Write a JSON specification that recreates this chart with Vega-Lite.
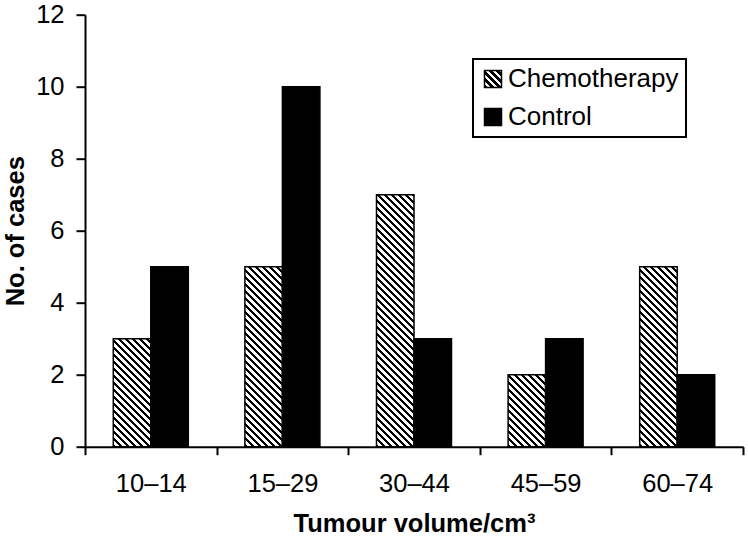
{
  "$schema": "https://vega.github.io/schema/vega-lite/v6.json",
  "width": 658,
  "height": 432,
  "autosize": {"type": "none"},
  "padding": {"left": 85, "top": 14.7, "right": 5, "bottom": 91.3},
  "background": "#ffffff",
  "config": {
    "font": "Liberation Sans",
    "view": {"stroke": null},
    "axis": {
      "domainColor": "#000",
      "domainWidth": 2,
      "tickColor": "#000",
      "tickWidth": 2,
      "labelColor": "#000",
      "labelFont": "Liberation Sans",
      "labelFontSize": 25.5,
      "titleColor": "#000",
      "titleFont": "Liberation Sans",
      "titleFontSize": 25.5,
      "titleFontWeight": "bold",
      "grid": false
    }
  },
  "params": [
    {
      "name": "hatch",
      "expr": "[{offset:0,color:'#000'},{offset:0.009,color:'#000'},{offset:0.009,color:'#fff'},{offset:0.02,color:'#fff'},{offset:0.02,color:'#000'},{offset:0.029,color:'#000'},{offset:0.029,color:'#fff'},{offset:0.04,color:'#fff'},{offset:0.04,color:'#000'},{offset:0.049,color:'#000'},{offset:0.049,color:'#fff'},{offset:0.06,color:'#fff'},{offset:0.06,color:'#000'},{offset:0.069,color:'#000'},{offset:0.069,color:'#fff'},{offset:0.08,color:'#fff'},{offset:0.08,color:'#000'},{offset:0.089,color:'#000'},{offset:0.089,color:'#fff'},{offset:0.1,color:'#fff'},{offset:0.1,color:'#000'},{offset:0.109,color:'#000'},{offset:0.109,color:'#fff'},{offset:0.12,color:'#fff'},{offset:0.12,color:'#000'},{offset:0.129,color:'#000'},{offset:0.129,color:'#fff'},{offset:0.14,color:'#fff'},{offset:0.14,color:'#000'},{offset:0.149,color:'#000'},{offset:0.149,color:'#fff'},{offset:0.16,color:'#fff'},{offset:0.16,color:'#000'},{offset:0.169,color:'#000'},{offset:0.169,color:'#fff'},{offset:0.18,color:'#fff'},{offset:0.18,color:'#000'},{offset:0.189,color:'#000'},{offset:0.189,color:'#fff'},{offset:0.2,color:'#fff'},{offset:0.2,color:'#000'},{offset:0.209,color:'#000'},{offset:0.209,color:'#fff'},{offset:0.22,color:'#fff'},{offset:0.22,color:'#000'},{offset:0.229,color:'#000'},{offset:0.229,color:'#fff'},{offset:0.24,color:'#fff'},{offset:0.24,color:'#000'},{offset:0.249,color:'#000'},{offset:0.249,color:'#fff'},{offset:0.26,color:'#fff'},{offset:0.26,color:'#000'},{offset:0.269,color:'#000'},{offset:0.269,color:'#fff'},{offset:0.28,color:'#fff'},{offset:0.28,color:'#000'},{offset:0.289,color:'#000'},{offset:0.289,color:'#fff'},{offset:0.3,color:'#fff'},{offset:0.3,color:'#000'},{offset:0.309,color:'#000'},{offset:0.309,color:'#fff'},{offset:0.32,color:'#fff'},{offset:0.32,color:'#000'},{offset:0.329,color:'#000'},{offset:0.329,color:'#fff'},{offset:0.34,color:'#fff'},{offset:0.34,color:'#000'},{offset:0.349,color:'#000'},{offset:0.349,color:'#fff'},{offset:0.36,color:'#fff'},{offset:0.36,color:'#000'},{offset:0.369,color:'#000'},{offset:0.369,color:'#fff'},{offset:0.38,color:'#fff'},{offset:0.38,color:'#000'},{offset:0.389,color:'#000'},{offset:0.389,color:'#fff'},{offset:0.4,color:'#fff'},{offset:0.4,color:'#000'},{offset:0.409,color:'#000'},{offset:0.409,color:'#fff'},{offset:0.42,color:'#fff'},{offset:0.42,color:'#000'},{offset:0.429,color:'#000'},{offset:0.429,color:'#fff'},{offset:0.44,color:'#fff'},{offset:0.44,color:'#000'},{offset:0.449,color:'#000'},{offset:0.449,color:'#fff'},{offset:0.46,color:'#fff'},{offset:0.46,color:'#000'},{offset:0.469,color:'#000'},{offset:0.469,color:'#fff'},{offset:0.48,color:'#fff'},{offset:0.48,color:'#000'},{offset:0.489,color:'#000'},{offset:0.489,color:'#fff'},{offset:0.5,color:'#fff'},{offset:0.5,color:'#000'},{offset:0.509,color:'#000'},{offset:0.509,color:'#fff'},{offset:0.52,color:'#fff'},{offset:0.52,color:'#000'},{offset:0.529,color:'#000'},{offset:0.529,color:'#fff'},{offset:0.54,color:'#fff'},{offset:0.54,color:'#000'},{offset:0.549,color:'#000'},{offset:0.549,color:'#fff'},{offset:0.56,color:'#fff'},{offset:0.56,color:'#000'},{offset:0.569,color:'#000'},{offset:0.569,color:'#fff'},{offset:0.58,color:'#fff'},{offset:0.58,color:'#000'},{offset:0.589,color:'#000'},{offset:0.589,color:'#fff'},{offset:0.6,color:'#fff'},{offset:0.6,color:'#000'},{offset:0.609,color:'#000'},{offset:0.609,color:'#fff'},{offset:0.62,color:'#fff'},{offset:0.62,color:'#000'},{offset:0.629,color:'#000'},{offset:0.629,color:'#fff'},{offset:0.64,color:'#fff'},{offset:0.64,color:'#000'},{offset:0.649,color:'#000'},{offset:0.649,color:'#fff'},{offset:0.66,color:'#fff'},{offset:0.66,color:'#000'},{offset:0.669,color:'#000'},{offset:0.669,color:'#fff'},{offset:0.68,color:'#fff'},{offset:0.68,color:'#000'},{offset:0.689,color:'#000'},{offset:0.689,color:'#fff'},{offset:0.7,color:'#fff'},{offset:0.7,color:'#000'},{offset:0.709,color:'#000'},{offset:0.709,color:'#fff'},{offset:0.72,color:'#fff'},{offset:0.72,color:'#000'},{offset:0.729,color:'#000'},{offset:0.729,color:'#fff'},{offset:0.74,color:'#fff'},{offset:0.74,color:'#000'},{offset:0.749,color:'#000'},{offset:0.749,color:'#fff'},{offset:0.76,color:'#fff'},{offset:0.76,color:'#000'},{offset:0.769,color:'#000'},{offset:0.769,color:'#fff'},{offset:0.78,color:'#fff'},{offset:0.78,color:'#000'},{offset:0.789,color:'#000'},{offset:0.789,color:'#fff'},{offset:0.8,color:'#fff'},{offset:0.8,color:'#000'},{offset:0.809,color:'#000'},{offset:0.809,color:'#fff'},{offset:0.82,color:'#fff'},{offset:0.82,color:'#000'},{offset:0.829,color:'#000'},{offset:0.829,color:'#fff'},{offset:0.84,color:'#fff'}]"
    }
  ],
  "data": {
    "values": [
      {"volume": "10–14", "group": "Chemotherapy", "cases": 3},
      {"volume": "10–14", "group": "Control", "cases": 5},
      {"volume": "15–29", "group": "Chemotherapy", "cases": 5},
      {"volume": "15–29", "group": "Control", "cases": 10},
      {"volume": "30–44", "group": "Chemotherapy", "cases": 7},
      {"volume": "30–44", "group": "Control", "cases": 3},
      {"volume": "45–59", "group": "Chemotherapy", "cases": 2},
      {"volume": "45–59", "group": "Control", "cases": 3},
      {"volume": "60–74", "group": "Chemotherapy", "cases": 5},
      {"volume": "60–74", "group": "Control", "cases": 2}
    ]
  },
  "mark": {"type": "bar", "stroke": "#000", "strokeWidth": 1.5},
  "encoding": {
    "x": {
      "field": "volume",
      "type": "nominal",
      "sort": null,
      "scale": {"paddingInner": 0, "paddingOuter": 0},
      "axis": {
        "title": "Tumour volume/cm³",
        "labelAngle": 0,
        "tickBand": "extent",
        "tickSize": 8,
        "labelPadding": 17,
        "titlePadding": 14
      }
    },
    "xOffset": {
      "field": "group",
      "type": "nominal",
      "scale": {"domain": ["Chemotherapy", "Control"], "paddingInner": 0, "paddingOuter": 0.7547}
    },
    "y": {
      "field": "cases",
      "type": "quantitative",
      "scale": {"domain": [0, 12], "nice": false},
      "axis": {
        "title": "No. of cases",
        "values": [0, 2, 4, 6, 8, 10, 12],
        "tickSize": 9,
        "labelPadding": 12,
        "titlePadding": 7
      }
    },
    "fill": {
      "condition": [
        {"test": "datum.group === 'Chemotherapy' && datum.cases === 2", "value": {"expr": "{gradient:'linear',x1:0,y1:1,x2:1.99157,y2:-2.82381,stops:hatch}"}},
        {"test": "datum.group === 'Chemotherapy' && datum.cases === 3", "value": {"expr": "{gradient:'linear',x1:0,y1:1,x2:1.00419,y2:-1.89207,stops:hatch}"}},
        {"test": "datum.group === 'Chemotherapy' && datum.cases === 5", "value": {"expr": "{gradient:'linear',x1:0,y1:1,x2:0.388242,y2:-0.863562,stops:hatch}"}},
        {"test": "datum.group === 'Chemotherapy' && datum.cases === 7", "value": {"expr": "{gradient:'linear',x1:0,y1:1,x2:0.202202,y2:-0.358797,stops:hatch}"}}
      ],
      "field": "group",
      "type": "nominal",
      "scale": {
        "domain": ["Chemotherapy", "Control"],
        "range": [
          {"expr": "{gradient:'linear',x1:0,y1:1,x2:10.294,y2:-9.294,stops:hatch}"},
          "#000"
        ]
      },
      "legend": {
        "title": null,
        "orient": "none",
        "legendX": 388,
        "legendY": 44.3,
        "labelFontSize": 26,
        "labelLimit": 400,
        "labelColor": "#000",
        "symbolType": "square",
        "symbolSize": 289,
        "symbolStrokeColor": "#000",
        "symbolStrokeWidth": 1.5,
        "strokeColor": "#000",
        "fillColor": "#fff",
        "padding": 7,
        "rowPadding": 12,
        "labelOffset": 2,
        "encode": {"legend": {"update": {"strokeWidth": {"value": 2}}}}
      }
    }
  }
}
